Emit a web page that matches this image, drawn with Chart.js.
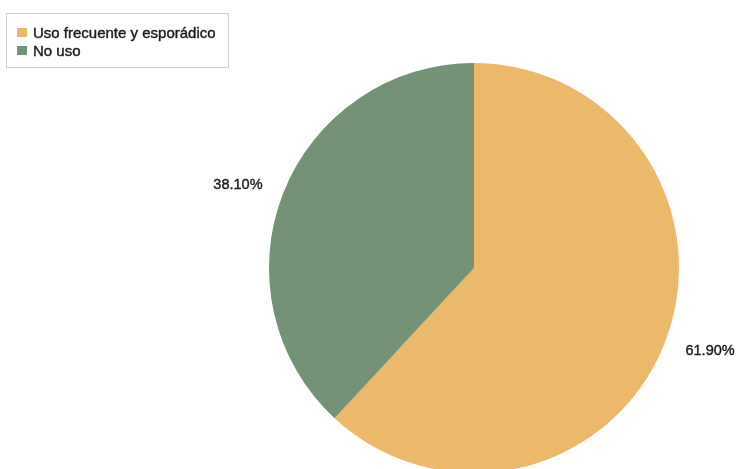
<!DOCTYPE html>
<html>
<head>
<meta charset="utf-8">
<script src="https://cdn.jsdelivr.net/npm/chart.js@4/dist/chart.umd.min.js"></script>
<style>
  html, body { margin: 0; padding: 0; background: #fff; overflow: hidden; }
  #wrap { position: relative; width: 736px; height: 480px; }
</style>
</head>
<body>
<div id="wrap"><canvas id="c" width="736" height="480"></canvas></div>
<script>
// Share of respondents by usage category
const categories = ['Uso frecuente y esporádico', 'No uso'];
const percentages = [61.90, 38.10];
const sliceColors = ['#ECB86A', '#739276'];

// Slightly heavier text: fill plus a hairline stroke in the same colour
function heavyText(ctx, text, x, y) {
  ctx.fillText(text, x, y);
  ctx.strokeText(text, x, y);
}

// Boxed legend in the upper-left corner
const boxLegend = {
  id: 'boxLegend',
  afterDraw(chart) {
    const ctx = chart.ctx;
    ctx.save();
    ctx.fillStyle = '#fff';
    ctx.strokeStyle = '#cfcfcf';
    ctx.lineWidth = 1;
    ctx.fillRect(6.5, 13.5, 222, 54);
    ctx.strokeRect(6.5, 13.5, 222, 54);
    ctx.font = '15px "Liberation Sans", Arial, sans-serif';
    ctx.textBaseline = 'middle';
    categories.forEach((name, i) => {
      const y = 32.5 + i * 18;
      ctx.fillStyle = sliceColors[i];
      ctx.fillRect(17, y - 4.5, 10, 9);
      ctx.fillStyle = '#1a1a1a';
      ctx.strokeStyle = '#1a1a1a';
      ctx.lineWidth = 0.4;
      heavyText(ctx, name, 33, y + 1);
    });
    ctx.restore();
  }
};

// Percentage labels placed outside each slice, along its middle angle
const outsideLabels = {
  id: 'outsideLabels',
  afterDatasetsDraw(chart) {
    const ctx = chart.ctx;
    const meta = chart.getDatasetMeta(0);
    ctx.save();
    ctx.font = '14.5px "Liberation Sans", Arial, sans-serif';
    ctx.fillStyle = '#1a1a1a';
    ctx.strokeStyle = '#1a1a1a';
    ctx.lineWidth = 0.4;
    ctx.textAlign = 'center';
    ctx.textBaseline = 'middle';
    meta.data.forEach((arc, i) => {
      const p = arc.getProps(['x', 'y', 'startAngle', 'endAngle', 'outerRadius'], true);
      const mid = (p.startAngle + p.endAngle) / 2;
      const lx = p.x + Math.cos(mid) * p.outerRadius * 1.237;
      const ly = p.y + Math.sin(mid) * p.outerRadius * 1.11;
      heavyText(ctx, percentages[i].toFixed(2) + '%', lx, ly);
    });
    ctx.restore();
  }
};

new Chart(document.getElementById('c'), {
  type: 'pie',
  data: {
    labels: categories,
    datasets: [{
      data: percentages,
      backgroundColor: sliceColors,
      borderWidth: 0
    }]
  },
  options: {
    responsive: false,
    animation: false,
    layout: { padding: { left: 269, right: 57, top: 63, bottom: 7 } },
    plugins: {
      legend: { display: false },
      tooltip: { enabled: false }
    }
  },
  plugins: [outsideLabels, boxLegend]
});
</script>
</body>
</html>
